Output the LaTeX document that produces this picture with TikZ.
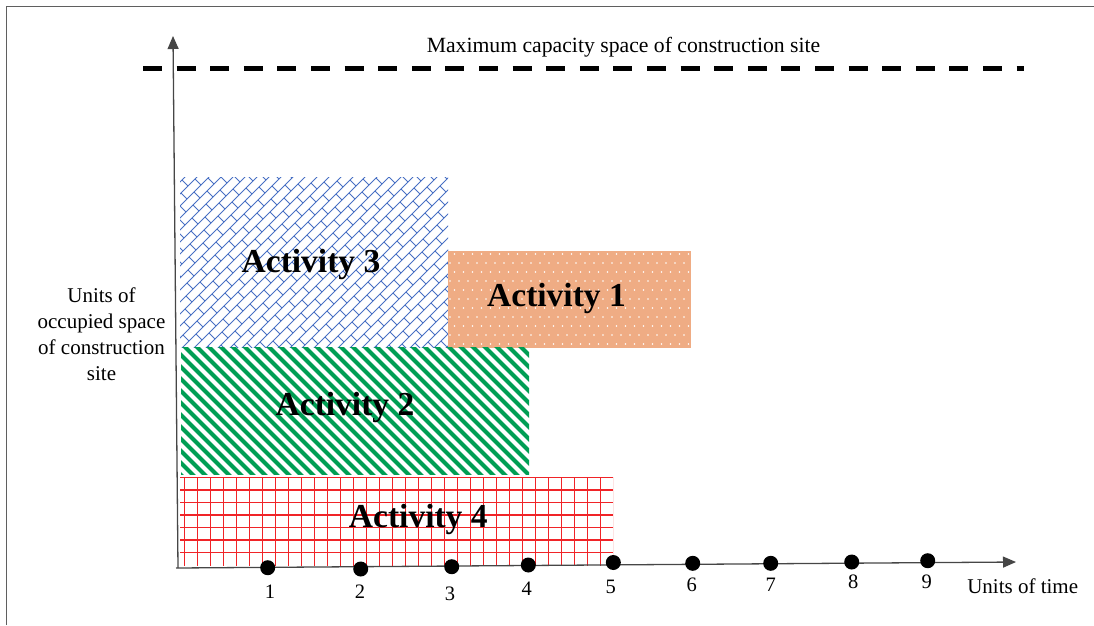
\documentclass[tikz,border=0pt]{standalone}
\usepackage{fontspec}
\setmainfont{Liberation Serif}
\usetikzlibrary{arrows.meta}
\definecolor{framegray}{RGB}{95,95,95}
\definecolor{axisgray}{RGB}{70,70,70}
\definecolor{gridred}{RGB}{240,36,40}
\definecolor{stripegreen}{RGB}{0,158,84}
\definecolor{brickblue}{RGB}{72,112,196}
\definecolor{dotorange}{RGB}{239,172,132}
\tikzset{
  frameline/.style={draw=framegray,line width=1.4pt},
  axisline/.style={draw=axisgray,line width=1.3pt,-{Triangle[length=13pt,width=11pt]}},
  capline/.style={line width=5pt,dash pattern=on 19pt off 14.6pt},
  gridline/.style={draw=gridred,line width=1.5pt},
  stripe/.style={draw=stripegreen,line width=4.2pt},
  brick/.style={draw=brickblue,line width=0.9pt},
  tick/.style={circle,fill=black,inner sep=0pt,minimum size=15pt},
  ticklabel/.style={font=\fontsize{20.5}{24}\selectfont,anchor=base},
  actlabel/.style={font=\fontsize{33.5}{36}\selectfont\bfseries,anchor=base},
  axislabel/.style={font=\fontsize{21}{26}\selectfont,anchor=base}
}
\begin{document}
\begin{tikzpicture}[x=1pt,y=-1pt]
\useasboundingbox (0,0) rectangle (1094,625);

% outer frame (left and top edges)
\draw[frameline] (6.7,625) -- (6.7,6.7) -- (1094,6.7);

% maximum capacity line
\coordinate (capL) at (143,68.5);
\coordinate (capR) at (1024,68.5);
\draw[capline] (capL) -- (capR);
\node[axislabel,font=\fontsize{21.7}{26}\selectfont] (captitle) at (623.5,52.3) {Maximum capacity space of construction site};

% Activity 3: diagonal brick pattern
\begin{scope}
  \clip (180,177) rectangle (448,347);
  \foreach \c [count=\n] in {350,362,...,810} {
    \draw[brick] ({\c-170},170) -- ({\c-370},370);
    \pgfmathsetmacro\off{mod(13*\n,14)}
    \foreach \x in {86,100,...,470} {
      \draw[brick] ({\x+\off},{\c-\x-\off}) -- ++(6,6);
    }
  }
\end{scope}
\node[actlabel] (act3) at (311,272) {Activity 3};

% Activity 1: dotted orange fill
\fill[dotorange] (448,251) rectangle (691,348);
\begin{scope}
  \clip (448,251) rectangle (691,348);
  \foreach \y [count=\r] in {254,263,...,350} {
    \pgfmathsetmacro\off{mod(\r,2)*4.5}
    \foreach \x in {450,459,...,695} {
      \fill[white] ({\x+\off},\y) circle (0.9);
    }
  }
\end{scope}
\node[actlabel] (act1) at (556.5,306.7) {Activity 1};

% Activity 2: green diagonal stripes
\begin{scope}
  \clip (181,347) rectangle (529,474);
  \foreach \i in {-12,...,30} {
    \draw[stripe] ({183+12*\i},345) -- ++(135,135);
  }
\end{scope}
\node[actlabel] (act2) at (345,415) {Activity 2};

% Activity 4: red grid, lines on pixel centres
\begin{scope}
  \clip (180,477) rectangle (613,566);
  \foreach \i in {0,...,33} {
    \draw[gridline] ({184.5+13*\i},477) -- ({184.5+13*\i},566);
  }
  \foreach \j in {0,...,6} {
    \draw[gridline] (180,{477.5+12.5*\j}) -- (613,{477.5+12.5*\j});
  }
\end{scope}
\node[actlabel] (act4) at (418.3,527.3) {Activity 4};

% axes
\coordinate (origin) at (178,568);
\coordinate (ytip) at (173,36);
\coordinate (xstart) at (176,568);
\coordinate (xtip) at (1016,562);
\draw[axisline] (origin) -- (ytip);
\draw[axisline] (xstart) -- (xtip);

% time ticks
\node[tick] (d1) at (267.7,567.7) {};
\node[tick] (d2) at (360.7,569) {};
\node[tick] (d3) at (451.7,566.7) {};
\node[tick] (d4) at (528.3,565) {};
\node[tick] (d5) at (613.3,562.5) {};
\node[tick] (d6) at (692.7,563.3) {};
\node[tick] (d7) at (770.7,563.3) {};
\node[tick] (d8) at (851.7,562) {};
\node[tick] (d9) at (927.7,560.7) {};

\node[ticklabel] (t1) at (270,598.5) {1};
\node[ticklabel] (t2) at (360,598.5) {2};
\node[ticklabel] (t3) at (450,600) {3};
\node[ticklabel] (t4) at (526.7,595) {4};
\node[ticklabel] (t5) at (610.7,593.5) {5};
\node[ticklabel] (t6) at (691.7,591) {6};
\node[ticklabel] (t7) at (770.7,591) {7};
\node[ticklabel] (t8) at (853.3,588.5) {8};
\node[ticklabel] (t9) at (926.7,588.5) {9};

\node[axislabel] (xlabel) at (1022.7,593.3) {Units of time};
\node[font=\fontsize{21}{26}\selectfont,align=center,anchor=base] (ylabel) at (101.5,380)
  {Units of\\occupied space\\of construction\\site};
\end{tikzpicture}
\end{document}
